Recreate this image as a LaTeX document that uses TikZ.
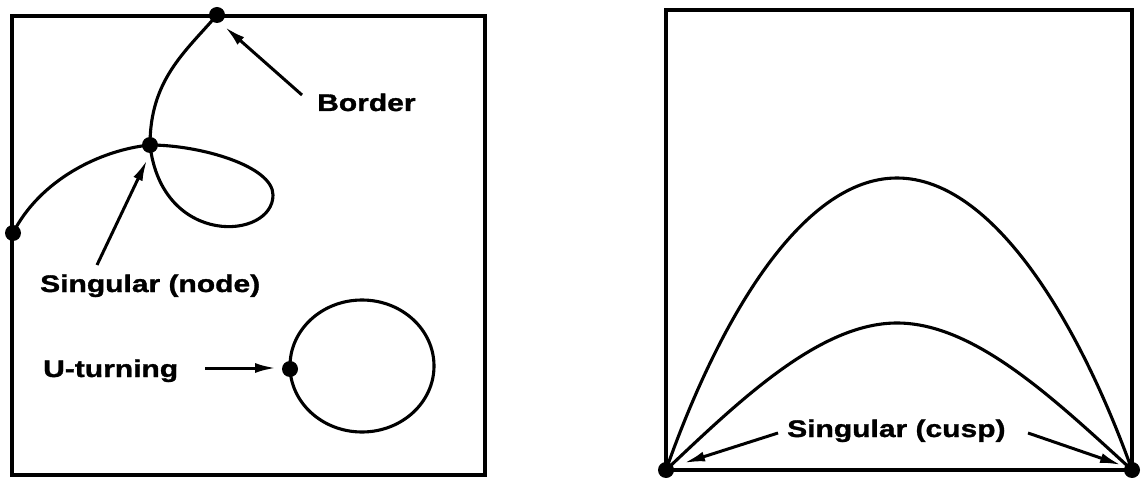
\documentclass[tikz,border=0pt]{standalone}
\usepackage{fontspec}
\newfontfamily\lblfont[FakeStretch=1.25,FakeBold=1.3]{Liberation Sans Bold}
\usetikzlibrary{arrows.meta}
\begin{document}
\begin{tikzpicture}[x=1pt,y=-1pt,
  curve/.style={line width=3.1pt},
  frame/.style={line width=3.2pt},
  dot/.style={circle,fill=black,inner sep=0pt,minimum size=16pt},
  lbl/.style={inner sep=0pt,anchor=base west,font=\lblfont\fontsize{24}{28}\selectfont},
  arr/.style={line width=3pt,-{Latex[length=21pt,width=10pt]}}]
\useasboundingbox (0,0) rectangle (1142,478);
% ---------- left panel ----------
\draw[frame] (12,16) rectangle (485,475);
\node[dot] (B) at (217,15) {};
\node[dot] (N) at (150,145) {};
\node[dot] (L) at (13,233) {};
\node[dot] (U) at (290,369) {};
\draw[curve] (B.center) .. controls (185,52) and (150,80) .. (N.center);
\draw[curve] (N.center) .. controls (100,150) and (40,180) .. (L.center);
\draw[curve] (N.center) .. controls (200,145) and (273,166) .. (273,195)
                        .. controls (273,240) and (162,248) .. (N.center);
\draw[curve] (362,366) ellipse [x radius=72, y radius=66];
\node[lbl] (tB) at (317,111) {Border};
\node[lbl] (tN) at (40,292) {Singular (node)};
\node[lbl] (tU) at (43,377) {U-turning};
\coordinate (aB1) at (302,95);  \coordinate (aB2) at (225,27);
\coordinate (aN1) at (97,265);  \coordinate (aN2) at (147,160);
\coordinate (aU1) at (205,368); \coordinate (aU2) at (276,368);
\draw[arr] (aB1) -- (aB2);
\draw[arr] (aN1) -- (aN2);
\draw[arr] (aU1) -- (aU2);
% ---------- right panel ----------
\draw[frame] (666,10) rectangle (1132,470);
\node[dot] (C1) at (666,470) {};
\node[dot] (C2) at (1132,470) {};
\draw[curve] (C1.center) .. controls (717,325) and (800,178) .. (897,178)
                         .. controls (994,178) and (1080,325) .. (C2.center);
\draw[curve] (C1.center) .. controls (740,400) and (820,323) .. (897,323)
                         .. controls (975,323) and (1055,400) .. (C2.center);
\node[lbl] (tC) at (787,437) {Singular (cusp)};
\coordinate (aC1) at (778,433); \coordinate (aC2) at (684,463);
\coordinate (aD1) at (1028,433); \coordinate (aD2) at (1121,465);
\draw[arr] (aC1) -- (aC2);
\draw[arr] (aD1) -- (aD2);
\end{tikzpicture}
\end{document}
